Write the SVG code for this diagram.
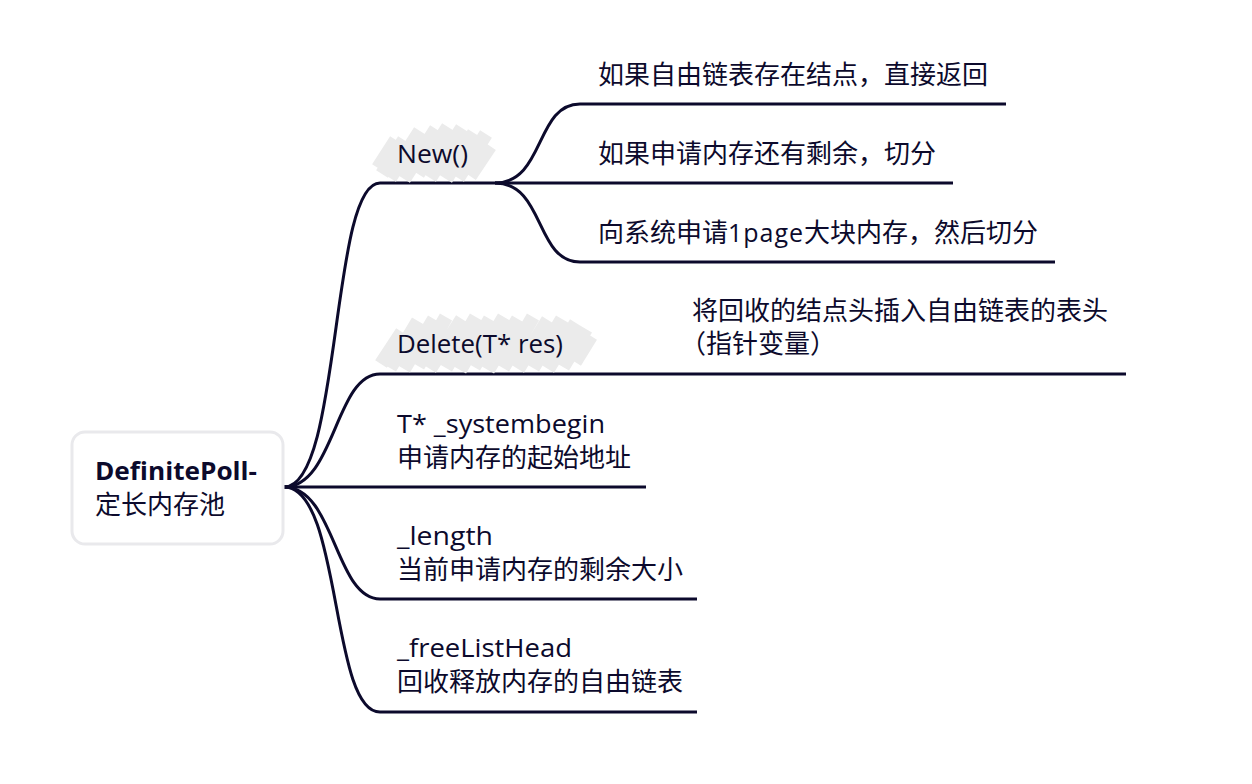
<svg xmlns="http://www.w3.org/2000/svg" width="1252" height="784" viewBox="0 0 1252 784">
<style>
.t{font-family:"Open Sans","Noto Sans CJK SC",sans-serif;font-size:25px;fill:#0c0a2c}
.c{font-size:26px}
.l{font-size:25px}
.b{font-weight:bold;font-size:25px}
.ln{fill:none;stroke:#0c0a2c;stroke-width:3}
.hl{fill:none;stroke:#ebebeb;stroke-width:14;stroke-linecap:butt}
</style>
<rect width="1252" height="784" fill="#ffffff"/>
<g id="connectors">
<path class="ln" d="M284,487 C342,487 330,183 380,183 L495,183"/>
<path class="ln" d="M284,487 C335,487 335,374 380,374 L1126,374"/>
<path class="ln" d="M284,487 L646,487"/>
<path class="ln" d="M284,487 C335,487 335,599 380,599 L697,599"/>
<path class="ln" d="M284,487 C342,487 330,712 380,712 L697,712"/>
<path class="ln" d="M495,183 C545,183 535,104 580,104 L1006,104"/>
<path class="ln" d="M495,183 L953,183"/>
<path class="ln" d="M495,183 C545,183 535,262 580,262 L1055,262"/>
</g>
<g id="root">
<rect x="72" y="432" width="211" height="112" rx="13" fill="#ffffff" stroke="#e9e9ec" stroke-width="3"/>
<text class="t b" x="95" y="480" textLength="162" lengthAdjust="spacingAndGlyphs">DefinitePoll-</text>
<text class="t c" x="95" y="514">定长内存池</text>
</g>
<g id="node-new">
<g class="hl">
<path d="M382,174 L404,140 M390,178 L420,131 M404,179 L436,129 M418,174 L448,127 M430,178 L462,128 M446,179 L474,133 M458,178 L486,134 M470,176 L490,146 M378,168 L396,140"/>
</g>
<text class="t" x="397" y="163" textLength="71" lengthAdjust="spacingAndGlyphs">New()</text>
</g>
<g id="node-delete">
<g class="hl">
<path d="M381,364 L402,332 M390,368 L418,321 M404,369 L434,319 M418,366 L446,317 M430,369 L462,319 M446,368 L476,317 M460,370 L490,319 M474,367 L504,317 M488,370 L518,319 M503,368 L533,317 M518,369 L548,320 M533,368 L562,319 M548,369 L576,323 M563,367 L586,329 M575,362 L591,336"/>
</g>
<text class="t" x="397" y="353" textLength="166" lengthAdjust="spacingAndGlyphs">Delete(T* res)</text>
</g>
<g id="node-sys">
<text class="t" x="397" y="433" textLength="208" lengthAdjust="spacingAndGlyphs">T* _systembegin</text>
<text class="t c" x="397" y="467">申请内存的起始地址</text>
</g>
<g id="node-length">
<text class="t" x="397" y="545" textLength="96" lengthAdjust="spacingAndGlyphs">_length</text>
<text class="t c" x="397" y="579">当前申请内存的剩余大小</text>
</g>
<g id="node-free">
<text class="t" x="397" y="657" textLength="175" lengthAdjust="spacingAndGlyphs">_freeListHead</text>
<text class="t c" x="397" y="691">回收释放内存的自由链表</text>
</g>
<g id="node-new1">
<text class="t c" x="598" y="84">如果自由链表存在结点，直接返回</text>
</g>
<g id="node-new2">
<text class="t c" x="598" y="163">如果申请内存还有剩余，切分</text>
</g>
<g id="node-new3">
<text class="t c" x="598" y="242">向系统申请<tspan class="l" letter-spacing="1">1page</tspan>大块内存，然后切分</text>
</g>
<g id="node-del1">
<text class="t c" x="692" y="320">将回收的结点头插入自由链表的表头</text>
<text class="t c" x="680" y="353">（指针变量）</text>
</g>
</svg>
